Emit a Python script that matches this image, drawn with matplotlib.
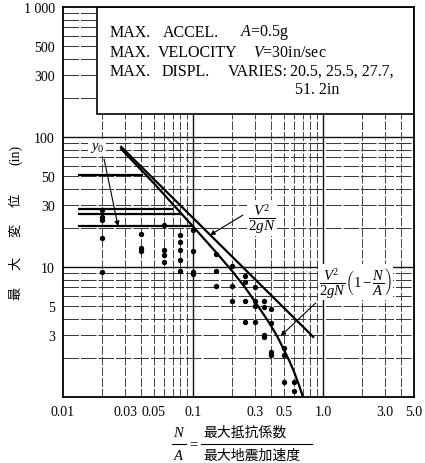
import numpy as np
import matplotlib
matplotlib.use("Agg")
import matplotlib.pyplot as plt
from matplotlib.patches import Rectangle
from matplotlib.lines import Line2D

plt.rcParams['font.family'] = ['Liberation Serif', 'Noto Sans CJK JP', 'DejaVu Sans']
plt.rcParams['mathtext.fontset'] = 'custom'
plt.rcParams['mathtext.rm'] = 'Liberation Serif'
plt.rcParams['mathtext.it'] = 'Liberation Serif:italic'
plt.rcParams['mathtext.bf'] = 'Liberation Serif:bold'

# ---- data ----
# experimental points (N/A, max displacement in)
pts_x = [0.02, 0.02, 0.02, 0.02, 0.02,
         0.04, 0.04, 0.04,
         0.06, 0.06, 0.06, 0.06,
         0.08, 0.08, 0.08, 0.08, 0.08,
         0.1, 0.1, 0.1, 0.1,
         0.15, 0.15, 0.15,
         0.2, 0.2, 0.2,
         0.25, 0.25, 0.25, 0.25,
         0.3, 0.3, 0.3, 0.3,
         0.35, 0.35, 0.35, 0.35,
         0.4, 0.4, 0.4, 0.4,
         0.5, 0.5, 0.5,
         0.6, 0.6]
pts_y = [27.4, 24.1, 23.1, 16.7, 9.1,
         18.1, 13.9, 13.2,
         20.9, 13.6, 12.4, 10.9,
         17.7, 15.5, 13.6, 11.4, 9.3,
         19.3, 13.2, 9.2, 8.8,
         12.6, 9.3, 7.1,
         10.2, 7.1, 5.5,
         8.6, 7.6, 5.5, 3.8,
         7.0, 5.5, 5.0, 3.8,
         5.5, 4.9, 3.0, 2.9,
         4.75, 3.7, 2.2, 2.1,
         2.4, 2.1, 1.3,
         1.3, 1.12]

# upper straight line V^2/2gN
upper_x = [0.028, 0.84]
upper_y = [84.0, 2.9]

# lower curve V^2/2gN (1 - N/A)
lower_x = [0.028, 0.05, 0.1, 0.15, 0.2, 0.25, 0.3, 0.35, 0.4, 0.45, 0.5, 0.55, 0.6, 0.65, 0.7]
lower_y = [81.0, 44.0, 20.5, 13.0, 9.3, 7.0, 5.4, 4.3, 3.5, 2.85, 2.3, 1.9, 1.55, 1.25, 1.0]

# max ground displacement levels y0 (in) and their extents
y0_values = [51.2, 27.7, 25.5, 20.5]
y0_x_start = [0.013, 0.013, 0.013, 0.013]
y0_x_end = [0.041, 0.070, 0.079, 0.100]

xtick_vals = [0.01, 0.03, 0.05, 0.1, 0.3, 0.5, 1.0, 3.0, 5.0]
xtick_labels = ['0.01', '0.03', '0.05', '0.1', '0.3', '0.5', '1.0', '3.0', '5.0']
ytick_vals = [1000, 500, 300, 100, 50, 30, 10, 5, 3]
ytick_labels = ['1 000', '500', '300', '100', '50', '30', '10', '5', '3']

# info box text pieces: (text, left px, row px)
box_pieces = [
    ("MAX.", 110, 33), ("ACCEL.", 163, 33), (r"$A$=0.5g", 240, 33),
    ("MAX.", 110, 53), ("VELOCITY", 158, 53), (r"$V$=30in/sec", 253, 53),
    ("MAX.", 110, 72), ("DISPL.", 162, 72), ("VARIES:", 228, 72),
    ("20.5, 25.5, 27.7,", 290, 72),
    ("51. 2in", 295, 90),
]

# ---- figure ----
W, H = 425, 464
fig = plt.figure(figsize=(W / 100, H / 100), dpi=100)
ax = fig.add_axes([63 / W, 1 - 398 / H, (414 - 63) / W, (398 - 8) / H])
ax.set_xscale('log')
ax.set_yscale('log')
ax.set_xlim(0.01, 5.0)
ax.set_ylim(1.0, 1000.0)

# log-paper grid
for e in range(-2, 1):
    for m in range(1, 10):
        v = m * 10.0 ** e
        if 0.01 < v < 5.0:
            major = (m == 1)
            ax.axvline(v, color='#111' if major else '#444', lw=1.0 if major else 0.7,
                       ls=(0, (9, 2)) if not major else '-', zorder=1)
for e in range(0, 3):
    for m in range(1, 10):
        v = m * 10.0 ** e
        if 1.0 < v < 1000.0:
            major = (m == 1)
            ax.axhline(v, color='#111' if major else '#333', lw=1.0 if major else 0.7,
                       ls=(0, (16, 2)) if not major else '-', zorder=1)

ax.set_xticks(xtick_vals, xtick_labels)
ax.set_yticks(ytick_vals, ytick_labels)
ax.minorticks_off()
ax.tick_params(length=0, labelsize=10, pad=6)
for s in ax.spines.values():
    s.set_linewidth(1.3)
    s.set_color('black')
    s.set_zorder(6)

# info box
box = Rectangle(((97 - 63) / 351, (398 - 115) / 390), 1 - (97 - 63) / 351, 1 - (398 - 115) / 390,
                transform=ax.transAxes, facecolor='white', edgecolor='black', lw=1.2, zorder=4)
ax.add_patch(box)
for txt, px, py in box_pieces:
    ax.text((px - 63) / 351, (398 - py) / 390, txt, transform=ax.transAxes,
            fontsize=11.5, va='center', ha='left', zorder=5)

# y0 levels
for yv, xs, xe in zip(y0_values, y0_x_start, y0_x_end):
    ax.plot([xs, xe], [yv, yv], color='black', lw=1.6, zorder=3, solid_capstyle='butt')

# theoretical lines
ax.plot(upper_x, upper_y, color='black', lw=1.6, zorder=3)
ax.plot(lower_x, lower_y, color='black', lw=1.6, zorder=3)

# points
ax.scatter(pts_x, pts_y, s=15, color='black', zorder=3, linewidths=0)

# annotations
ax.text(0.0183, 83.5, r"$y_0$", fontsize=10.5, ha='center', va='center', zorder=5,
        bbox=dict(facecolor='white', edgecolor='none', pad=1.0))
ax.annotate('', xy=(0.0265, 20.6), xytext=(0.0207, 67.6),
            arrowprops=dict(arrowstyle='-|>', lw=0.8, color='black', mutation_scale=7,
                            shrinkA=0, shrinkB=0), zorder=5)

ax.text(0.34, 23.8, r"$\dfrac{V^2}{2gN}$", fontsize=11, ha='center', va='center', zorder=5,
        bbox=dict(facecolor='white', edgecolor='none', pad=0.5))
ax.annotate('', xy=(0.135, 17.6), xytext=(0.242, 25.1),
            arrowprops=dict(arrowstyle='-|>', lw=0.8, color='black', mutation_scale=7,
                            shrinkA=0, shrinkB=0), zorder=5)

ax.text(1.77, 7.67, r"$\dfrac{V^2}{2gN}\left(1-\dfrac{N}{A}\right)$", fontsize=10.5,
        ha='center', va='center', zorder=5,
        bbox=dict(facecolor='white', edgecolor='none', pad=0.5))
ax.annotate('', xy=(0.472, 2.95), xytext=(0.88, 5.3),
            arrowprops=dict(arrowstyle='-|>', lw=0.8, color='black', mutation_scale=7,
                            shrinkA=0, shrinkB=0), zorder=5)

# y label (vertical, rotated)
ylab_chars = ['最', '大', '変', '位']
ylab_pos = [293, 263, 230, 200]
for ch, py in zip(ylab_chars, ylab_pos):
    fig.text(16 / W, 1 - py / H, ch, rotation=90, fontsize=9.5, ha='center', va='center',
             family=['Noto Sans CJK JP', 'DejaVu Sans'])
fig.text(16 / W, 1 - 155 / H, '(in)', rotation=90, fontsize=10, ha='center', va='center')

# x label as a fraction
fig.text(179 / W, 1 - 433 / H, r"$N$", fontsize=10.5, ha='center', va='center')
fig.text(179 / W, 1 - 456 / H, r"$A$", fontsize=10.5, ha='center', va='center')
fig.add_artist(Line2D([172 / W, 186 / W], [1 - 445 / H, 1 - 445 / H], color='black', lw=0.8))
fig.text(193 / W, 1 - 445 / H, '=', fontsize=10.5, ha='center', va='center')
fig.text(203 / W, 1 - 433 / H, '最大抵抗係数', fontsize=10, ha='left', va='center',
         family=['Noto Sans CJK JP', 'DejaVu Sans'])
fig.text(203 / W, 1 - 456 / H, '最大地震加速度', fontsize=10, ha='left', va='center',
         family=['Noto Sans CJK JP', 'DejaVu Sans'])
fig.add_artist(Line2D([201 / W, 312 / W], [1 - 445 / H, 1 - 445 / H], color='black', lw=0.8))

fig.savefig('out.png', dpi=100)
